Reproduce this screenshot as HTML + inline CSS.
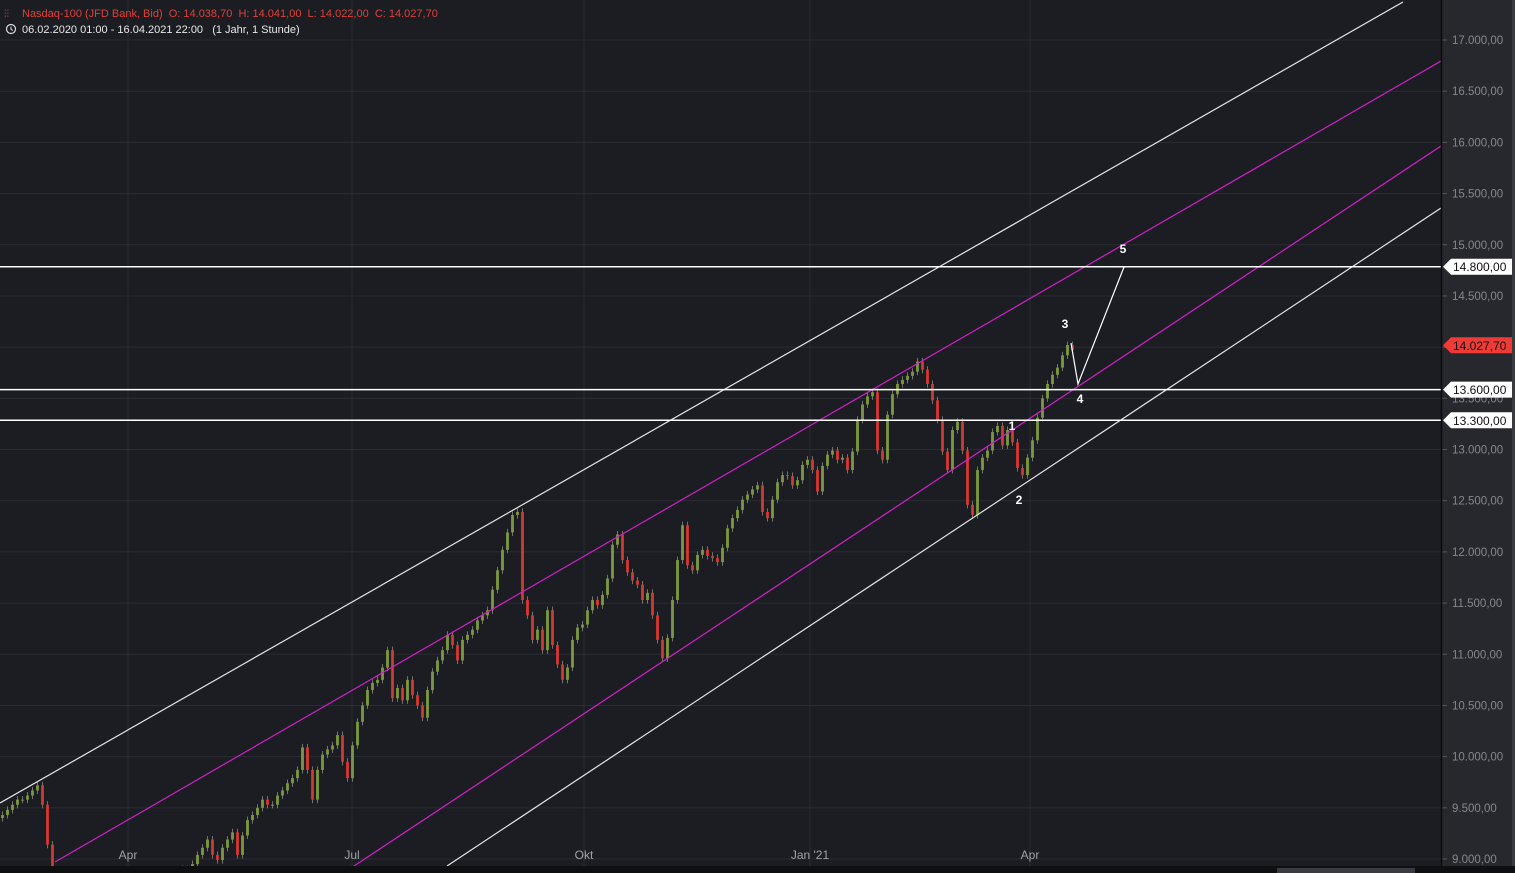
<!DOCTYPE html>
<html><head><meta charset="utf-8"><style>
html,body{margin:0;padding:0;background:#1b1d22;overflow:hidden;width:1515px;height:873px}
svg{display:block;font-family:"Liberation Sans",sans-serif}
</style></head><body>
<svg id="chart" width="1515" height="873" xmlns="http://www.w3.org/2000/svg">
<defs><clipPath id="plotclip"><rect x="0" y="0" width="1441" height="866"/></clipPath></defs>
<rect x="0" y="0" width="1441" height="873" fill="#1b1d22"/>
<rect x="1441" y="0" width="74" height="873" fill="#27282d"/>
<g id="grid"></g>
<g id="candles" clip-path="url(#plotclip)"></g>
<g id="annot" clip-path="url(#plotclip)"></g>
<g id="yaxis"></g>
<g id="xaxis"></g>
<line x1="1441.5" y1="0" x2="1441.5" y2="866" stroke="#0b0b0d" stroke-width="1.5"/>
<rect x="0" y="866" width="1515" height="7" fill="#0e0f11"/>
<rect x="1277" y="868" width="138" height="5" fill="#3a3b40"/>
<rect x="1512" y="0" width="3" height="866" fill="#3a3b40"/>
<g>
<text x="22" y="17" fill="#e0403a" font-size="11" xml:space="preserve">Nasdaq-100 (JFD Bank, Bid)  O: 14.038,70  H: 14.041,00  L: 14.022,00  C: 14.027,70</text>
<text x="4" y="17" fill="#e0403a" font-size="10">⫶⫶</text>
<circle cx="11" cy="29" r="4.5" fill="none" stroke="#ddd" stroke-width="1.2"/>
<path d="M11 26.5V29.3L12.8 30.5" stroke="#ddd" stroke-width="1" fill="none"/>
<text x="22" y="33" fill="#e8e8e8" font-size="11" xml:space="preserve">06.02.2020 01:00 - 16.04.2021 22:00   (1 Jahr, 1 Stunde)</text>
</g>
</svg>
<script>
const closes=[9430,9480,9530,9580,9580,9620,9670,9720,9530,9140,8800,8600,
8300,8500,8000,7800,7600,7200,6900,7000,7400,7300,7600,7900,7700,7800,8000,8100,8200,8400,8500,8600,8700,8850,8800,8750,8900,8850,8950,
9040,9110,9190,9040,8990,9110,9190,9260,9040,9230,9380,9430,9500,9580,9530,9530,9620,9670,9740,9790,9870,10090,9870,9580,9870,10020,10070,10110,10210,9950,9790,10110,10340,10500,10650,10720,10750,10870,11040,10570,10670,10550,10750,10600,10500,10380,10650,10830,10940,11040,11190,11090,10940,11140,11190,11240,11330,11380,11430,11630,11820,12020,12190,12360,12390,
11530,11380,11140,11240,11040,11430,11090,10900,10750,10870,11140,11260,11290,11430,11530,11480,11580,11740,12070,12170,11920,11800,11720,11680,11530,11600,11380,11140,10960,11160,11530,11920,12260,11870,11820,11970,12020,11960,11940,11900,12040,12230,12330,12410,12510,12560,12610,12650,12390,12330,12510,12680,12750,12740,12650,12700,12850,12900,12800,12590,12840,12950,12990,12900,12920,12800,12980,13290,13440,13520,13560,12990,12900,13340,13540,13640,13680,13720,13760,13860,13780,13640,13480,13290,12980,12800,13190,13270,12990,12460,12360,12800,12920,12990,13170,13230,13040,13190,13070,12820,12750,12920,13090,13310,13500,13640,13730,13800,13920,14020,13970];
const priceTicks=[9000,9500,10000,10500,11000,11500,12000,12500,13000,13500,14000,14500,15000,15500,16000,16500,17000];
const timeLabels=["Apr","Jul","Okt","Jan '21","Apr"];
const timeLabelIdx=[25.6,70.4,116.8,162,206];
const levels=[14800,13600,13300];
const lastPrice=14027.70;
const NS="http://www.w3.org/2000/svg";
function y(p){return 859-(p-9000)*(819/8000);}
function x(i){return i*5;}
function el(t,a,parent){const e=document.createElementNS(NS,t);for(const k in a)e.setAttribute(k,a[k]);parent.appendChild(e);return e;}
function fmt(v){let s=v.toFixed(2).replace('.',',');let [a,b]=s.split(',');a=a.replace(/\B(?=(\d{3})+(?!\d))/g,'.');return a+','+b;}
const grid=document.getElementById('grid'),ya=document.getElementById('yaxis'),xa=document.getElementById('xaxis');
priceTicks.forEach(p=>{
 const g=el('line',{x1:0,x2:1441,y1:y(p),y2:y(p),stroke:'#2a2c32','stroke-width':1},grid);
 
 
 const tk=el('line',{x1:1442,x2:1447,y1:y(p),y2:y(p),stroke:'#555'},ya);
 
 
 const t=el('text',{x:1452,y:y(p)+4,fill:'#85878d','font-size':11.5},ya);
 
 
 t.textContent=fmt(p);
});
timeLabels.forEach((l,k)=>{
 const xx=x(timeLabelIdx[k]);
 const g=el('line',{x1:xx,x2:xx,y1:0,y2:866,stroke:'#2a2c32'},grid);
 
 
 const t=el('text',{x:xx,y:859,fill:'#a0a2a8','font-size':12,'text-anchor':'middle'},xa);
 
 
 t.textContent=l;
});
const cg=document.getElementById('candles');
for(let i=0;i<closes.length;i++){
 const c=closes[i],o=i?closes[i-1]:c-30;
 const up=c>=o,col=up?'#7c9b3e':'#d8362e';
 const hi=Math.max(o,c)+35,lo=Math.min(o,c)-35;
 const w=el('line',{x1:x(i)+2.5,x2:x(i)+2.5,y1:y(hi),y2:y(lo),stroke:'#8a8a80','stroke-width':0.8},cg);
 
 
 const b=el('rect',{x:x(i)+1,y:Math.min(y(o),y(c)),width:3,height:Math.max(1,Math.abs(y(o)-y(c))),fill:col,opacity:0.9},cg);
 
 
}
const an=document.getElementById('annot');
[[0,803,1403,2,'#e6e6e6','upper-channel-line'],[55,862,1441,61,'#d020c8','upper-mid-channel-line'],[348,870,1441,146,'#d020c8','lower-mid-channel-line'],[447,866,1441,208,'#e6e6e6','lower-channel-line']].forEach(a=>{
 const l=el('line',{x1:a[0],y1:a[1],x2:a[2],y2:a[3],stroke:a[4],'stroke-width':1.2},an);
 
 
});
levels.forEach(p=>{
 const yy=y(p)+1.5;
 const l=el('line',{x1:0,x2:1441,y1:yy,y2:yy,stroke:'#ffffff','stroke-width':1.5},an);
 
 
 const tg=el('path',{d:`M1443 ${yy} L1451 ${yy-8} H1512 V${yy+8} H1451 Z`,fill:'#ffffff'},ya);
 
 
 const t=el('text',{x:1453,y:yy+4.5,fill:'#111','font-size':12},ya);
 
 
 t.textContent=fmt(p);
});
{const yy=y(lastPrice)+1;
 const tg=el('path',{d:`M1443 ${yy} L1451 ${yy-8} H1512 V${yy+8} H1451 Z`,fill:'#ee3b36'},ya);
 
 
 const t=el('text',{x:1453,y:yy+4.5,fill:'#111','font-size':12},ya);
 
 
 t.textContent=fmt(lastPrice);}
const wv=el('polyline',{points:'1071,343 1078,384 1124,267',fill:'none',stroke:'#ffffff','stroke-width':1.2},an);


[['1',1012,430],['2',1019,504],['3',1065,328],['4',1080,403],['5',1123,253]].forEach(w=>{
 const t=el('text',{x:w[1],y:w[2],fill:'#ffffff','font-size':12,'font-weight':'bold','text-anchor':'middle'},an);
 
 
 t.textContent=w[0];
});
</script>
</body></html>
